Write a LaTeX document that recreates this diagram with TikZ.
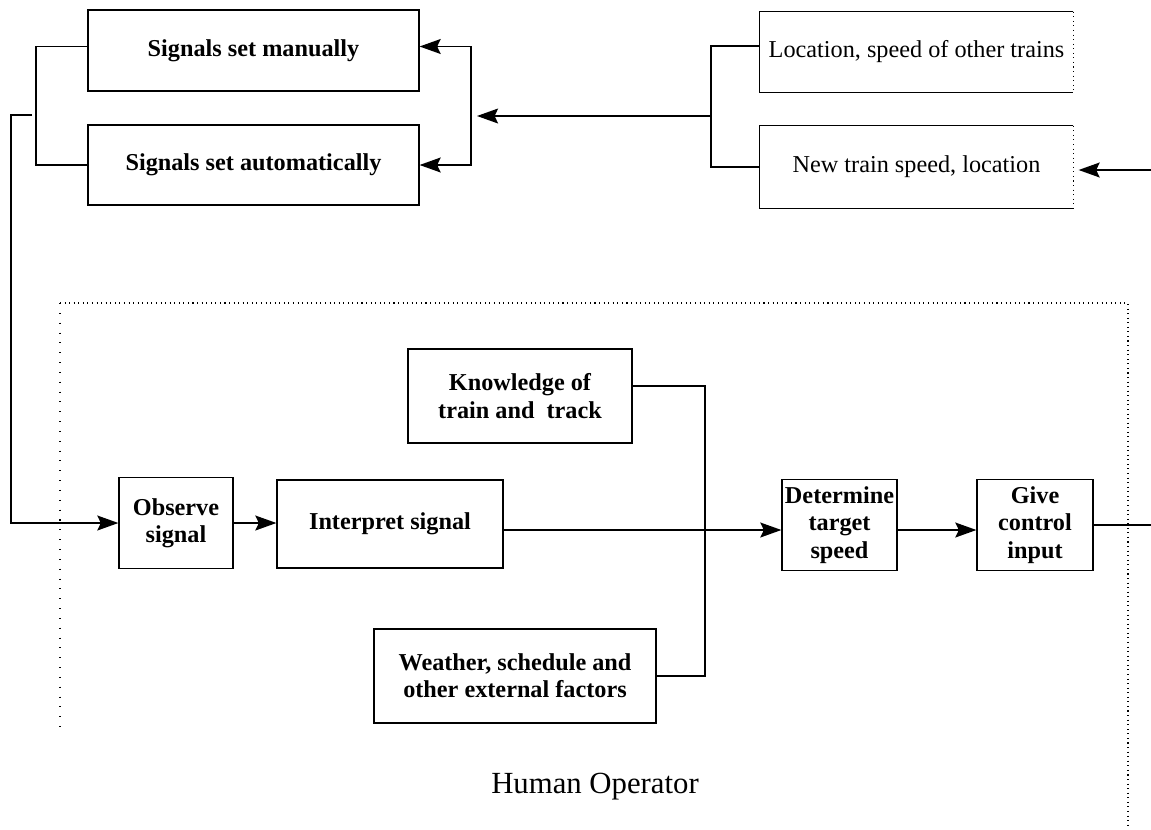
\documentclass[tikz,border=0pt]{standalone}
\usepackage{fontspec}
\setmainfont{Liberation Serif}
\usetikzlibrary{arrows.meta,calc}
\begin{document}
\begin{tikzpicture}[x=0.02cm,y=-0.02cm,
  box/.style={draw,line width=0.7pt,inner sep=0pt,align=center,
    font=\bfseries\fontsize{13.8}{15.5}\selectfont},
  openbox/.style={inner sep=0pt,align=center,
    font=\fontsize{13.8}{15.5}\selectfont},
  link/.style={line width=0.9pt},
  tip/.tip={Stealth[length=12pt,width=8.5pt,inset=2pt]},
  flow/.style={link,-tip},
  frame/.style={line width=0.6pt,dotted},
  sparse/.style={line width=0.6pt,dash pattern=on 0.6pt off 5pt}]
\useasboundingbox (0,0) rectangle (1151,829);

% signal sources
\node[box,minimum width=6.62cm,minimum height=1.62cm] (man) at (253.5,50.5) {Signals set manually};
\node[box,minimum width=6.62cm,minimum height=1.60cm] (auto) at (253.5,165) {Signals set automatically};

% train state
\node[openbox,minimum width=6.26cm,minimum height=1.60cm] (loc) at (916.5,52) {Location, speed of other trains};
\node[openbox,minimum width=6.26cm,minimum height=1.64cm] (newt) at (916.5,167) {New train speed, location};
\foreach \b in {loc,newt}{
  \draw[line width=0.7pt] (\b.north east) -- (\b.north west) -- (\b.south west) -- (\b.south east);
  \draw[line width=0.6pt,dotted] (\b.north east) -- (\b.south east);
}

% operator tasks
\node[box,minimum width=2.28cm,minimum height=1.82cm] (obs) at (176,523) {Observe\\signal};
\node[box,minimum width=4.52cm,minimum height=1.76cm] (interp) at (390,524) {Interpret signal};
\node[box,minimum width=2.30cm,minimum height=1.82cm] (det) at (839.5,525) {Determine\\target\\speed};
\node[box,minimum width=2.32cm,minimum height=1.82cm] (give) at (1035,525) {Give\\control\\input};
\node[box,minimum width=4.48cm,minimum height=1.88cm] (know) at (520,396) {Knowledge of\\train and\ \ track};
\node[box,minimum width=5.64cm,minimum height=1.88cm] (weath) at (515,676) {Weather, schedule and\\other external factors};

% operator boundary
\draw[frame] (60,303) -- (1128,303) -- (1128,829);
\draw[sparse] (60,303) -- (60,735);
\node[font=\fontsize{17.5}{20}\selectfont] (hum) at (595,787) {Human Operator};

% helper points
\coordinate (brL) at (36,0);
\coordinate (brR) at (471,0);
\coordinate (brT) at (711,0);
\coordinate (kw) at (705,0);
\coordinate (sigout) at (32,115);
\coordinate (feedL) at (11,115);
\coordinate (trainsout) at (711,116);
\coordinate (sigin) at (477,116);
\coordinate (feedR) at (1151,170);
\coordinate (out) at (1151,525);

% signal bracket and its output to the operator
\draw[link] ($(man.west)+(0,-4)$) -| (brL |- auto.west) -- (auto.west);
\draw[flow] (sigout) -- (feedL) |- (obs.west);

% train state feeding the signals
\draw[link] ($(loc.west)+(0,-6)$) -| (brT |- newt.west) -- (newt.west);
\draw[flow] (trainsout) -- (sigin);
\draw[link,tip-tip]
  ($(man.east)+(0,-4)$) -- ($(man.east -| brR)+(0,-4)$) -- (auto.east -| brR) -- (auto.east);
\draw[flow,shorten >=3pt] (feedR) -- (feedR -| newt.east);

% operator chain
\draw[flow] (obs.east) -- (obs.east -| interp.west);
\draw[flow] (interp.east |- 0,530) -- (det.west |- 0,530);
\draw[flow] (det.east |- 0,530) -- (give.west |- 0,530);
\draw[link] (give.east) -- (out);

% knowledge and external factors joining the chain
\draw[line width=0.7pt] ($(know.east)+(0,-10)$) -- ($(know.east -| kw)+(0,-10)$) -- (weath.east -| kw) -- (weath.east);
\end{tikzpicture}
\end{document}
